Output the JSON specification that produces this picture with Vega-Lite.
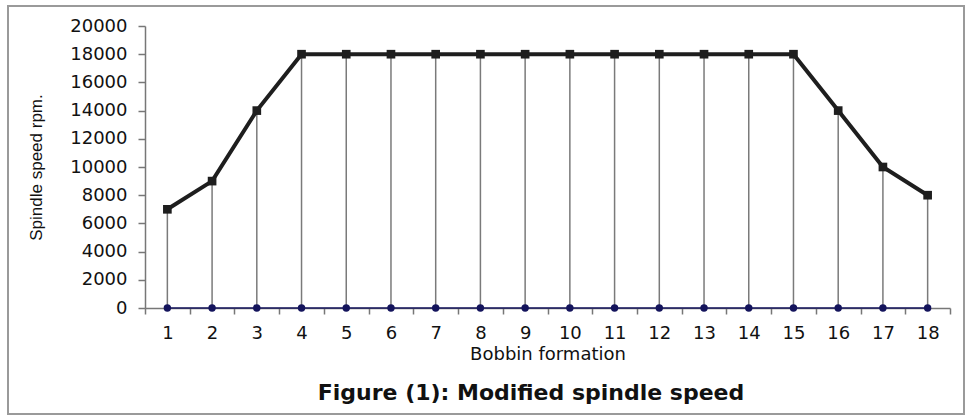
{
  "$schema": "https://vega.github.io/schema/vega-lite/v6.json",
  "width": 956,
  "height": 408,
  "autosize": {"type": "none"},
  "padding": {"left": 8, "top": 6, "right": 9, "bottom": 2},
  "background": "white",
  "title": {
    "text": "Figure (1): Modified spindle speed",
    "orient": "bottom",
    "anchor": "middle",
    "offset": -31,
    "dx": 45,
    "font": "DejaVu Sans",
    "fontSize": 22,
    "fontWeight": "bold",
    "color": "#111"
  },
  "config": {
    "view": {"stroke": "#9a9a9a", "strokeWidth": 2},
    "axis": {
      "labelFont": "DejaVu Sans",
      "labelFontSize": 18,
      "labelColor": "#111111",
      "titleFont": "DejaVu Sans",
      "titleFontSize": 18,
      "titleFontWeight": "normal",
      "titleColor": "#111111",
      "domainColor": "#777777",
      "domainWidth": 1.5,
      "tickColor": "#777777",
      "tickWidth": 1.5,
      "grid": false
    }
  },
  "data": {
    "values": [
      {"bf": 1, "speed": 7000, "zero": 0},
      {"bf": 2, "speed": 9000, "zero": 0},
      {"bf": 3, "speed": 14000, "zero": 0},
      {"bf": 4, "speed": 18000, "zero": 0},
      {"bf": 5, "speed": 18000, "zero": 0},
      {"bf": 6, "speed": 18000, "zero": 0},
      {"bf": 7, "speed": 18000, "zero": 0},
      {"bf": 8, "speed": 18000, "zero": 0},
      {"bf": 9, "speed": 18000, "zero": 0},
      {"bf": 10, "speed": 18000, "zero": 0},
      {"bf": 11, "speed": 18000, "zero": 0},
      {"bf": 12, "speed": 18000, "zero": 0},
      {"bf": 13, "speed": 18000, "zero": 0},
      {"bf": 14, "speed": 18000, "zero": 0},
      {"bf": 15, "speed": 18000, "zero": 0},
      {"bf": 16, "speed": 14000, "zero": 0},
      {"bf": 17, "speed": 10000, "zero": 0},
      {"bf": 18, "speed": 8000, "zero": 0}
    ]
  },
  "encoding": {
    "x": {
      "field": "bf",
      "type": "ordinal",
      "scale": {"type": "band", "range": [137, 942], "paddingInner": 0, "paddingOuter": 0},
      "axis": {
        "title": "Bobbin formation",
        "labelAngle": 0,
        "offset": -106,
        "tickBand": "extent",
        "tickSize": 6,
        "labelPadding": 10,
        "titlePadding": 3
      }
    }
  },
  "layer": [
    {
      "mark": {"type": "rule", "color": "#7a7a7a", "strokeWidth": 1.5},
      "encoding": {
        "y": {"field": "speed", "type": "quantitative"},
        "y2": {"field": "zero"}
      }
    },
    {
      "mark": {"type": "line", "color": "#14145c", "strokeWidth": 1.5},
      "encoding": {
        "y": {"field": "zero", "type": "quantitative"}
      }
    },
    {
      "mark": {"type": "point", "shape": "circle", "filled": true, "color": "#14145c", "size": 55, "opacity": 1},
      "encoding": {
        "y": {"field": "zero", "type": "quantitative"}
      }
    },
    {
      "mark": {"type": "line", "color": "#1e1e1e", "strokeWidth": 4},
      "encoding": {
        "y": {
          "field": "speed",
          "type": "quantitative",
          "scale": {"domain": [0, 20000], "range": [302, 20], "nice": false, "zero": true},
          "axis": {
            "title": "Spindle speed  rpm.",
            "titleFont": "Liberation Sans",
            "titleFontSize": 17,
            "titleX": -100,
            "values": [0, 2000, 4000, 6000, 8000, 10000, 12000, 14000, 16000, 18000, 20000],
            "format": "d",
            "offset": -137,
            "tickSize": 7,
            "labelPadding": 11
          }
        }
      }
    },
    {
      "mark": {"type": "point", "shape": "square", "filled": true, "color": "#1e1e1e", "size": 75, "opacity": 1},
      "encoding": {
        "y": {"field": "speed", "type": "quantitative"}
      }
    }
  ],
  "resolve": {"scale": {"y": "shared"}}
}
